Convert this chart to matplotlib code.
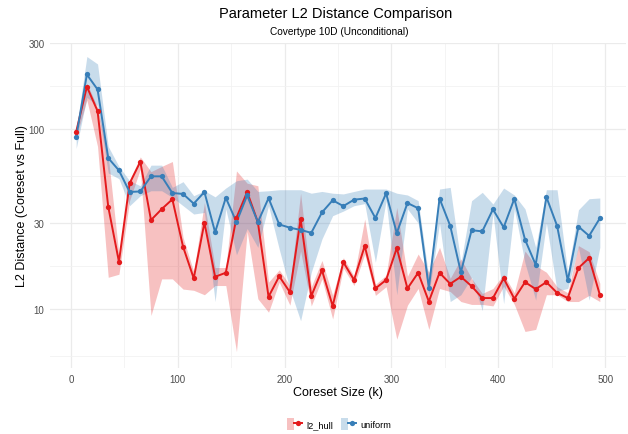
import matplotlib
matplotlib.use("Agg")
import matplotlib.pyplot as plt
from matplotlib.patches import Patch
from matplotlib.lines import Line2D
from matplotlib.legend_handler import HandlerTuple
import numpy as np

plt.rcParams['font.family'] = ['Liberation Sans', 'DejaVu Sans']

# coreset sizes
k = [5, 15, 25, 35, 45, 55, 65, 75, 85, 95,
     105, 115, 125, 135, 145, 155, 165, 175, 185, 195,
     205, 215, 225, 235, 245, 255, 265, 275, 285, 295,
     305, 315, 325, 335, 345, 355, 365, 375, 385, 395,
     405, 415, 425, 435, 445, 455, 465, 475, 485, 495]

# l2_hull: mean and ribbon bounds
hull_mean = [96.6, 172, 126, 37, 18.3, 49.9, 65.8, 31.2, 35.9, 40.7,
             22.2, 14.8, 30.2, 15.1, 15.9, 32.2, 44.7, 30.4, 11.7, 15.2,
             12.4, 31.6, 11.8, 16.4, 10.4, 18.2, 14.5, 22.4, 13.0, 14.5,
             21.8, 13.0, 15.9, 11.0, 15.9, 13.8, 15.1, 13.4, 11.5, 11.5,
             14.8, 11.4, 14.1, 12.9, 14.1, 12.3, 11.5, 16.9, 19.2, 12.0]
hull_lo = [90, 145, 80, 15, 15.6, 40, 60, 9.2, 14.7, 14.7,
           12.9, 12.7, 12, 13.5, 13.5, 5.8, 27, 11.4, 9.6, 14.1,
           10.5, 21, 10.4, 14.7, 8.8, 16.9, 13.5, 20.2, 11.9, 13.3,
           6.8, 10.5, 13, 7.7, 13, 12.5, 11, 10.6, 10.6, 10.4,
           13.4, 10.6, 7.5, 7.7, 12, 12, 11, 11, 11.9, 11]
hull_hi = [102, 180, 132, 71, 20, 52, 70, 58, 62, 66,
           25, 16.1, 39, 17, 17, 58.5, 50, 48.4, 14.1, 16.5,
           13.5, 44, 13.3, 18.6, 11.9, 19.3, 15.2, 31.6, 13.7, 15.4,
           36.7, 15.2, 20.2, 16, 22, 14.8, 19, 14.8, 12.2, 13,
           15.6, 12.3, 21, 17.4, 16, 13.3, 12.3, 22.5, 20.8, 13.9]

# uniform: mean and ribbon bounds
unif_mean = [90.3, 201, 166, 69, 58.9, 44.7, 45, 54.6, 54.6, 44.1,
             43.6, 38.5, 44.7, 26.7, 41.5, 30.4, 42.8, 30.4, 41.3, 29.5,
             28.3, 27.5, 26.5, 34.4, 40.2, 37.3, 40.5, 41.1, 32.0, 43.9,
             26.4, 38.8, 36.3, 13.1, 41.1, 29.0, 16.0, 27.4, 27.0, 35.8,
             28.4, 41.0, 24.3, 17.6, 41.9, 29.0, 14.4, 28.7, 25.5, 31.9]
unif_lo = [78, 150, 135, 57, 53, 37.5, 42.6, 45.4, 45.4, 41.7,
           37.5, 33.7, 34.4, 11, 36, 20, 28, 22, 37.5, 21.5,
           12.9, 8.6, 16, 24.5, 33, 35, 37.5, 38.5, 18.2, 40,
           12, 36, 30, 12, 30, 11, 12, 15, 9.8, 34,
           10.7, 36, 18, 11.2, 30, 12.6, 13, 22, 11.2, 22]
unif_hi = [98, 253, 230, 80, 62, 51.6, 48.4, 63, 63, 47.4,
           51, 42.6, 45.4, 42, 47, 51.6, 52.7, 45, 45.4, 46,
           46, 46, 44, 45, 44, 43.6, 45, 46.4, 46.4, 46.4,
           44, 43, 40, 15, 46.4, 47.4, 18, 40, 44.5, 38.3,
           47, 43, 36, 22, 46, 46, 15.9, 35.6, 41, 41.4]

series = [("l2_hull", hull_mean, hull_lo, hull_hi, "#E41A1C"),
          ("uniform", unif_mean, unif_lo, unif_hi, "#377EB8")]

fig = plt.figure(figsize=(6.28, 4.35), dpi=100)
ax = fig.add_axes([50 / 628, 1 - 369 / 435, 576 / 628, 325.5 / 435])

ax.set_yscale("log")
ax.set_xlim(-19.5, 519.5)
ax.set_ylim(10 ** 0.672, 10 ** 2.481)

# ribbons first, then lines, then points (like ggplot layers)
for name, m, lo, hi, col in series:
    ax.fill_between(k, lo, hi, color=col, alpha=0.27, linewidth=0, zorder=2)
for name, m, lo, hi, col in series:
    ax.plot(k, m, color=col, lw=1.4, zorder=3)
for name, m, lo, hi, col in series:
    ax.plot(k, m, "o", color=col, ms=3.8, mec="none", zorder=4)

ax.set_yticks([10, 30, 100, 300])
ax.set_yticklabels(["10", "30", "100", "300"])
ax.set_yticks([10 ** 0.7386, 10 ** 1.2386, 10 ** 1.7386, 10 ** 2.2386], minor=True)
ax.yaxis.set_minor_formatter(plt.NullFormatter())
ax.set_xticks([0, 100, 200, 300, 400, 500])
ax.set_xticks([50, 150, 250, 350, 450], minor=True)

ax.grid(True, which="major", color="#EBEBEB", lw=0.9, zorder=0)
ax.grid(True, which="minor", color="#F2F2F2", lw=0.6, zorder=0)
ax.set_axisbelow(True)
for s in ax.spines.values():
    s.set_visible(False)
ax.tick_params(which="both", length=0, labelsize=7, labelcolor="#4D4D4D", pad=4)

ax.set_xlabel("Coreset Size (k)", fontsize=9, labelpad=2)
ax.set_ylabel("L2 Distance (Coreset vs Full)", fontsize=9, labelpad=0)

fig.text(0.535, 1 - 14 / 435, "Parameter L2 Distance Comparison",
         ha="center", va="center", fontsize=10.5)
fig.text(0.541, 1 - 32 / 435, "Covertype 10D (Unconditional)",
         ha="center", va="center", fontsize=7.3)

handles = []
for name, m, lo, hi, col in series:
    p = Patch(facecolor=col, alpha=0.27, edgecolor="none")
    l = Line2D([], [], color=col, lw=1.4, marker="o", ms=3.8, mec="none")
    handles.append((p, l))
fig.legend(handles, [s[0] for s in series], loc="center",
           bbox_to_anchor=(0.54, 1 - 425 / 435), ncol=2, frameon=False,
           fontsize=6.7, handlelength=1.6, handleheight=1.6,
           columnspacing=0.8, handletextpad=0.5,
           handler_map={tuple: HandlerTuple(ndivide=None, pad=0)})

fig.savefig("out.png", dpi=100)
